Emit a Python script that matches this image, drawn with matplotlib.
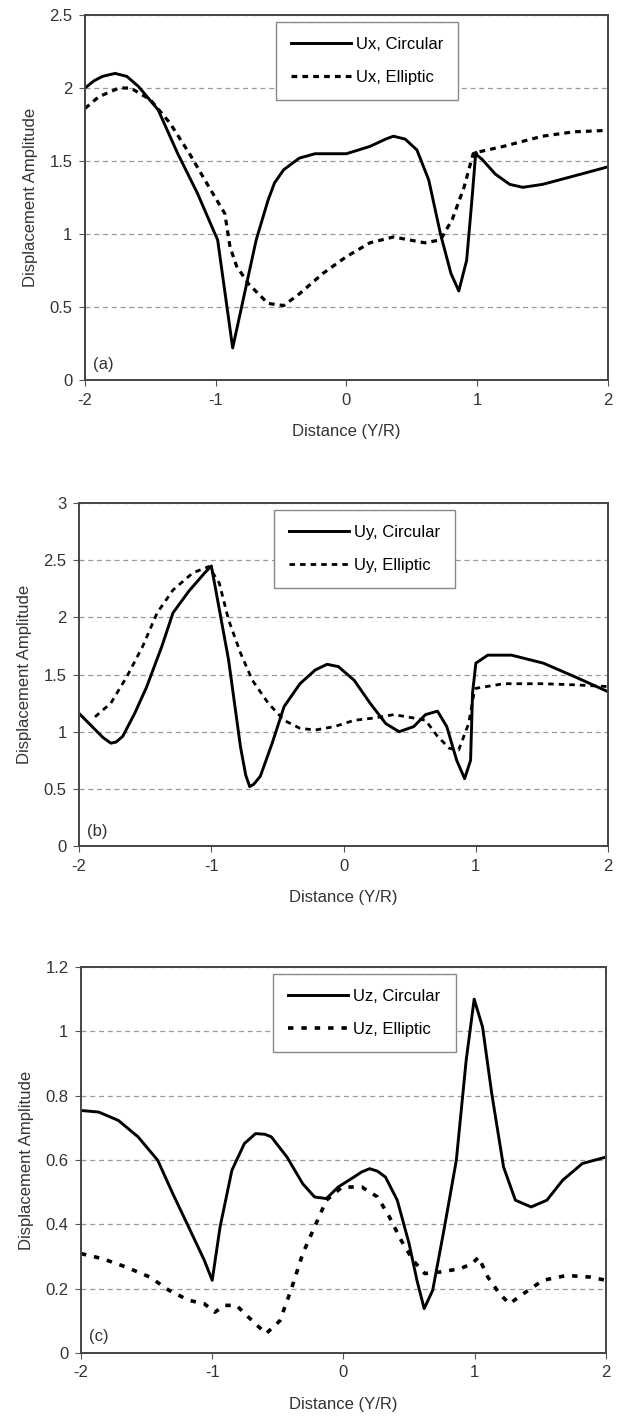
import matplotlib.pyplot as plt

plt.rcParams['font.family'] = ['Liberation Sans', 'DejaVu Sans']

# ---- panel (a): Ux ----
ux_circ_x = [-2.0, -1.93, -1.865, -1.77, -1.68, -1.59, -1.44, -1.29, -1.14, -1.0, -0.985, -0.87, -0.78,
             -0.69, -0.60, -0.55, -0.48, -0.36, -0.24, 0.0, 0.18, 0.30, 0.36, 0.45, 0.54, 0.63, 0.72, 0.80,
             0.86, 0.92, 0.96, 0.99, 1.0, 1.04, 1.14, 1.25, 1.35, 1.50, 1.71, 2.0]
ux_circ_y = [2.0, 2.05, 2.08, 2.10, 2.08, 2.01, 1.85, 1.55, 1.28, 0.99, 0.96, 0.22, 0.59,
             0.96, 1.23, 1.35, 1.44, 1.52, 1.55, 1.55, 1.60, 1.65, 1.67, 1.65, 1.575, 1.37, 1.00, 0.73,
             0.61, 0.82, 1.23, 1.56, 1.54, 1.51, 1.41, 1.34, 1.32, 1.34, 1.39, 1.46]
ux_ell_x = [-2.0, -1.895, -1.74, -1.65, -1.50, -1.35, -1.20, -1.05, -0.93, -0.89, -0.84, -0.75,
            -0.60, -0.48, -0.36, -0.18, 0.0, 0.18, 0.36, 0.48, 0.60, 0.72, 0.81, 0.90, 0.97,
            1.0, 1.20, 1.50, 1.74, 2.0]
ux_ell_y = [1.86, 1.94, 2.0, 2.0, 1.92, 1.76, 1.55, 1.32, 1.14, 0.91, 0.78, 0.66,
            0.525, 0.51, 0.59, 0.73, 0.845, 0.94, 0.98, 0.96, 0.94, 0.96, 1.10, 1.32, 1.55,
            1.56, 1.60, 1.67, 1.70, 1.71]

# ---- panel (b): Uy ----
uy_circ_x = [-2.0, -1.88, -1.82, -1.76, -1.72, -1.67, -1.58, -1.49, -1.375, -1.29, -1.17, -1.05, -1.0,
             -0.87, -0.78, -0.74, -0.71, -0.68, -0.63, -0.54, -0.45, -0.33, -0.215, -0.125, -0.04,
             0.08, 0.20, 0.32, 0.42, 0.53, 0.62, 0.71, 0.78, 0.855, 0.915, 0.96, 0.975, 1.0, 1.09,
             1.27, 1.51, 1.75, 2.0]
uy_circ_y = [1.16, 1.02, 0.95, 0.90, 0.91, 0.96, 1.16, 1.39, 1.745, 2.04, 2.23, 2.39, 2.45,
             1.63, 0.87, 0.62, 0.52, 0.54, 0.61, 0.90, 1.22, 1.42, 1.54, 1.59, 1.57,
             1.45, 1.25, 1.07, 1.00, 1.045, 1.15, 1.18, 1.045, 0.75, 0.59, 0.75, 1.34, 1.60, 1.67,
             1.67, 1.60, 1.48, 1.35]
uy_ell_x = [-1.88, -1.76, -1.64, -1.52, -1.41, -1.29, -1.14, -1.02, -0.94, -0.87, -0.78, -0.69,
            -0.57, -0.45, -0.33, -0.215, -0.07, 0.08, 0.23, 0.38, 0.53, 0.62, 0.71, 0.80,
            0.87, 0.945, 0.99, 1.0, 1.21, 1.51, 1.75, 2.0]
uy_ell_y = [1.13, 1.25, 1.48, 1.745, 2.04, 2.24, 2.39, 2.445, 2.30, 1.98, 1.69, 1.45,
            1.25, 1.10, 1.03, 1.015, 1.045, 1.10, 1.12, 1.15, 1.12, 1.10, 0.96, 0.855,
            0.84, 1.07, 1.365, 1.38, 1.42, 1.42, 1.41, 1.395]

# ---- panel (c): Uz ----
uz_circ_x = [-2.0, -1.865, -1.715, -1.565, -1.415, -1.30, -1.18, -1.06, -1.0, -0.94, -0.85, -0.755,
             -0.67, -0.60, -0.55, -0.43, -0.31, -0.22, -0.13, -0.04, 0.08, 0.14, 0.20, 0.26, 0.32,
             0.41, 0.50, 0.56, 0.615, 0.68, 0.77, 0.86, 0.935, 0.996, 1.06, 1.13, 1.22, 1.31, 1.43,
             1.55, 1.67, 1.82, 2.0]
uz_circ_y = [0.754, 0.749, 0.723, 0.672, 0.599, 0.495, 0.392, 0.288, 0.226, 0.392, 0.568, 0.651,
             0.682, 0.680, 0.672, 0.609, 0.526, 0.485, 0.480, 0.516, 0.547, 0.563, 0.573, 0.565, 0.547,
             0.475, 0.34, 0.226, 0.138, 0.195, 0.392, 0.599, 0.91, 1.10, 1.013, 0.806, 0.578, 0.475,
             0.454, 0.475, 0.537, 0.589, 0.609]
uz_ell_x = [-2.0, -1.835, -1.655, -1.475, -1.33, -1.18, -1.06, -0.98, -0.905, -0.815, -0.725, -0.59,
            -0.485, -0.40, -0.31, -0.22, -0.13, -0.01, 0.14, 0.26, 0.35, 0.44, 0.53, 0.62,
            0.74, 0.89, 0.98, 1.03, 1.10, 1.19, 1.265, 1.37, 1.52, 1.70, 1.88, 2.0]
uz_ell_y = [0.309, 0.293, 0.267, 0.236, 0.195, 0.164, 0.153, 0.127, 0.148, 0.148, 0.112, 0.06,
            0.10, 0.195, 0.309, 0.392, 0.475, 0.516, 0.516, 0.485, 0.423, 0.35, 0.288, 0.247,
            0.252, 0.262, 0.278, 0.298, 0.236, 0.184, 0.153, 0.184, 0.226, 0.241, 0.236, 0.226]

x_ticks = [-2, -1, 0, 1, 2]

panels = [
    dict(rect=[0.1375, 0.7316, 0.846, 0.2578], cx=ux_circ_x, cy=ux_circ_y, ex=ux_ell_x, ey=ux_ell_y,
         names=['Ux, Circular', 'Ux, Elliptic'], ymax=2.5, ystep=0.5, tag='(a)',
         dash=(0, (1.8, 1.6)), lw=2.3),
    dict(rect=[0.128, 0.4025, 0.856, 0.2422], cx=uy_circ_x, cy=uy_circ_y, ex=uy_ell_x, ey=uy_ell_y,
         names=['Uy, Circular', 'Uy, Elliptic'], ymax=3.0, ystep=0.5, tag='(b)',
         dash=(0, (2.0, 1.8)), lw=2.0),
    dict(rect=[0.131, 0.0445, 0.8495, 0.2726], cx=uz_circ_x, cy=uz_circ_y, ex=uz_ell_x, ey=uz_ell_y,
         names=['Uz, Circular', 'Uz, Elliptic'], ymax=1.2, ystep=0.2, tag='(c)',
         dash=(0, (1.5, 2.2)), lw=2.6),
]

fig = plt.figure(figsize=(6.18, 14.16), dpi=100)

for p in panels:
    ax = fig.add_axes(p['rect'])
    ax.plot(p['cx'], p['cy'], color='black', lw=2.1, label=p['names'][0])
    ax.plot(p['ex'], p['ey'], color='black', lw=p['lw'], ls=p['dash'], label=p['names'][1])
    ax.set_xlim(-2, 2)
    ax.set_ylim(0, p['ymax'])
    n = int(round(p['ymax'] / p['ystep']))
    yt = [round(i * p['ystep'], 1) for i in range(n + 1)]
    ax.set_yticks(yt)
    ax.set_yticklabels([('%g' % v) for v in yt])
    ax.set_xticks(x_ticks)
    ax.set_xticklabels([str(v) for v in x_ticks])
    ax.yaxis.grid(True, ls=(0, (4, 3)), color='#999999', lw=0.9)
    ax.set_axisbelow(True)
    for s in ax.spines.values():
        s.set_color('#444444')
        s.set_linewidth(1.4)
    ax.tick_params(labelsize=12, length=4, color='#555555', labelcolor='#333333', pad=5)
    ax.set_xlabel('Distance (Y/R)', fontsize=12, color='#333333', labelpad=12)
    ax.set_ylabel('Displacement Amplitude', fontsize=12, color='#333333', labelpad=8)
    ax.text(0.015, 0.03, p['tag'], transform=ax.transAxes, fontsize=12, color='#333333')
    leg = ax.legend(loc='upper center', bbox_to_anchor=(0.54, 1.0), fontsize=12, fancybox=False,
                    framealpha=1, edgecolor='#888888', handlelength=3.6, labelspacing=1.1,
                    borderpad=0.9, handletextpad=0.3, borderaxespad=0.4)
    leg.get_frame().set_linewidth(1.0)

fig.savefig('out.png', dpi=100)
